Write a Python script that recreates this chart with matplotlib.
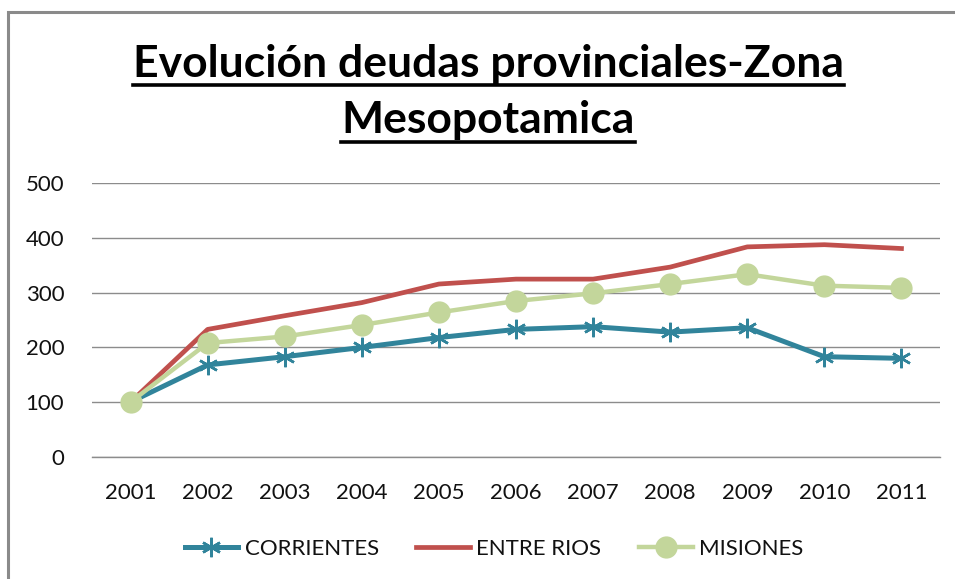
import matplotlib
matplotlib.use("Agg")
import matplotlib.pyplot as plt
from matplotlib.lines import Line2D
from matplotlib.patches import Rectangle

years = ['2001', '2002', '2003', '2004', '2005', '2006', '2007', '2008', '2009', '2010', '2011']
corrientes = [100, 168, 183, 200, 218, 233, 238, 228, 236, 183, 180]
entre_rios = [100, 233, 258, 282, 316, 325, 325, 347, 384, 388, 381]
misiones = [100, 208, 220, 241, 264, 285, 299, 316, 334, 313, 309]
series_names = ['CORRIENTES', 'ENTRE RIOS', 'MISIONES']
title_lines = ['Evolución deudas provinciales-Zona', 'Mesopotamica']

W, H = 955, 579
plt.rcParams['font.family'] = ['Lato', 'DejaVu Sans']
fig = plt.figure(figsize=(W / 100, H / 100), dpi=100)

# chart border (left and top visible, rest cropped)
fig.patches.append(Rectangle((8 / W, -0.5), 2.0, (1 - 12 / H) + 0.5, transform=fig.transFigure,
                             fill=False, edgecolor='#8a8a8a', lw=2.2))

ax = fig.add_axes([92 / W, 1 - 456.7 / H, (940 - 92) / W, (456.7 - 183.5) / H])
x = list(range(len(years)))
ax.plot(x, corrientes, color='#31849B', lw=3.6, marker=(6, 2, 0), ms=14, mew=1.8,
        label=series_names[0], zorder=3)
ax.plot(x, entre_rios, color='#C0504D', lw=3.4, label=series_names[1], zorder=4)
ax.plot(x, misiones, color='#C3D69B', lw=3.2, marker='o', ms=15, mec='#C3D69B',
        label=series_names[2], zorder=5)

ax.set_xlim(-0.5, len(years) - 0.5)
ax.set_ylim(0, 500)
ax.set_yticks(range(0, 501, 100))
ax.set_xticks(x)
ax.set_xticklabels(years)
ax.set_axisbelow(True)
ax.yaxis.grid(True, color='#8c8c8c', lw=1.0)
for s in ['top', 'right', 'left']:
    ax.spines[s].set_visible(False)
ax.spines['bottom'].set_color('#8c8c8c')
ax.spines['bottom'].set_linewidth(1.0)
ax.tick_params(axis='both', length=0, labelsize=16, colors='#111111')
ax.tick_params(axis='y', pad=20)
ax.tick_params(axis='x', pad=19)

leg = fig.legend(loc='center', bbox_to_anchor=(494 / W, 1 - 549 / H), ncol=3, frameon=False,
                 fontsize=16, handlelength=2.4, handletextpad=0.3, columnspacing=1.7,
                 borderpad=0, borderaxespad=0)
for t in leg.get_texts():
    t.set_color('#111111')

# title
cx = 488 / W
t1 = fig.text(cx, 1 - 77.5 / H, title_lines[0], ha='center', va='baseline',
              fontsize=30, fontweight='bold', color='black')
t2 = fig.text(cx, 1 - 133.5 / H, title_lines[1], ha='center', va='baseline',
              fontsize=30, fontweight='bold', color='black')
fig.canvas.draw()
r = fig.canvas.get_renderer()
w1 = t1.get_window_extent(r).width
fs = 30 * 710 / w1
t1.set_fontsize(fs)
t2.set_fontsize(fs)
fig.canvas.draw()
for t, uy in [(t1, 85), (t2, 142)]:
    bb = t.get_window_extent(r)
    fig.lines.append(Line2D([bb.x0 / W, bb.x1 / W], [1 - uy / H, 1 - uy / H],
                            transform=fig.transFigure, color='black', lw=2.6))

fig.savefig('out.png', dpi=100)
